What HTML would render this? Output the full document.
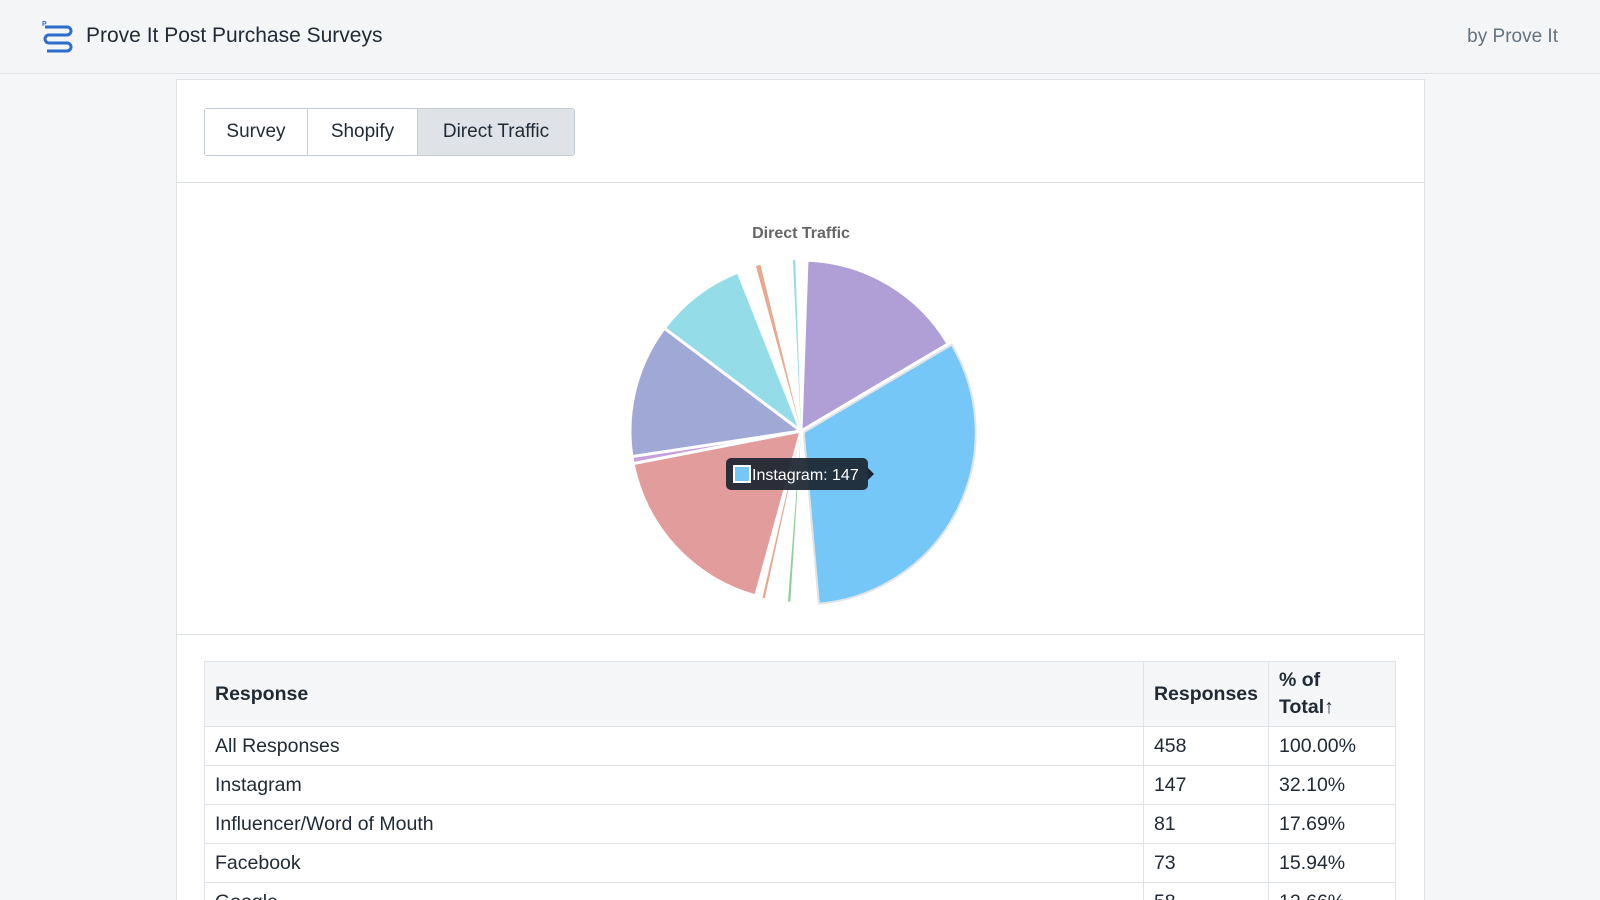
<!DOCTYPE html>
<html style="height:900px;overflow:hidden"><head><meta charset="utf-8"><style>
body{margin:0;width:1600px;height:900px;overflow:hidden;position:relative;background:#f4f6f8;font-family:"Liberation Sans",sans-serif;color:#212b36}
.top{position:absolute;left:0;top:0;width:1600px;height:73px;background:#f4f5f7;border-bottom:1px solid #dfe3e8}
.title{position:absolute;left:86px;top:24px;font-size:21px;color:#212b36}
.by{position:absolute;right:42px;top:26px;font-size:19px;color:#637381}
.card{position:absolute;left:176px;top:79px;width:1247px;height:821px;overflow:hidden;background:#fff;border:1px solid #dfe3e8;border-bottom:0}
.tabs{position:absolute;left:27px;top:28px;display:flex;border:1px solid #c4cdd5;border-radius:3px;overflow:hidden}
.tabs div{height:46px;line-height:46px;font-size:19px;text-align:center;border-right:1px solid #c4cdd5;background:#fff}
.tabs div:last-child{border-right:0;background:#dfe3e8}
.sep{position:absolute;left:0;width:1247px;height:1px;background:#dfe3e8}
table{position:absolute;left:27px;top:581px;width:1192px;border-collapse:collapse;font-size:19.5px}
th{background:#f4f6f8;text-align:left;font-weight:bold;height:64px;padding:0 10px;border:1px solid #dfe3e8;line-height:27px}
td{height:38px;padding:0 10px;border:1px solid #dfe3e8}
</style></head><body>
<div class="top">
<svg style="position:absolute;left:41px;top:19px" width="35" height="35"><path d="M4 8h22a4 4 0 0 1 0 8H8a4 4 0 0 0 0 8h18a4 4 0 0 1 0 8H6" fill="none" stroke="#2c6ecb" stroke-width="3"/><text x="1" y="7" font-size="7" fill="#2c6ecb" font-family="Liberation Sans" font-weight="bold">P</text></svg>
<div class="title">Prove It Post Purchase Surveys</div>
<div class="by">by Prove It</div>
</div>
<div class="card">
<div class="tabs">
<div style="width:102px">Survey</div>
<div style="width:109px">Shopify</div>
<div style="width:156px">Direct Traffic</div>
</div>
<div class="sep" style="top:102px"></div>
<div class="sep" style="top:554px"></div>
<svg id="pie" style="position:absolute;left:0;top:103px" width="1247" height="450"></svg>
<table>
<tr><th>Response</th><th style="width:103px">Responses</th><th style="width:106px">% of<br>Total↑</th></tr>
<tr><td>All Responses</td><td>458</td><td>100.00%</td></tr>
<tr><td>Instagram</td><td>147</td><td>32.10%</td></tr>
<tr><td>Influencer/Word of Mouth</td><td>81</td><td>17.69%</td></tr>
<tr><td>Facebook</td><td>73</td><td>15.94%</td></tr>
<tr><td>Google</td><td>58</td><td>12.66%</td></tr>
</table>
</div>
<script>
const labels=["Facebook","Instagram","g1","Other A","g2","Other B","g3","Influencer/Word of Mouth","Other C","Google","Other D","g4","Other E","Other F","g5","Other G","g6"];
const values=[73,147,11,1,10,1,3,81,3,58,40,8,1,1,14,1,5];
const colors=["#b09fd6","#74c7f7","#fff","#8fce9a","#fff","#e8a58c","#fff","#e39c9c","#c79ee0","#a0a8d6","#94dce8","#fff","#e8a58c","#e8a58c","#fff","#94dce8","#fff"];
const svg=document.getElementById('pie');
const NS='http://www.w3.org/2000/svg';
const cx=624,cy=248,r=171,start=2;
const total=values.reduce((a,b)=>a+b,0);
function pt(a,rr,ox,oy){const t=(a-90)*Math.PI/180;return [cx+ox+rr*Math.cos(t),cy+oy+rr*Math.sin(t)];}
const tt=document.createElementNS(NS,'text');
tt.setAttribute('x',cx);tt.setAttribute('y',55);tt.setAttribute('text-anchor','middle');
tt.setAttribute('font-size','16');tt.setAttribute('font-weight','bold');tt.setAttribute('fill','#666');
tt.textContent='Direct Traffic';


svg.appendChild(tt);
const big=[],small=[];
let a=start;
values.forEach((v,i)=>{
 const sw=v/total*360;const a2=a+sw;
 let ox=0,oy=0,rr=r;
 if(i===1){const m=(a+sw/2-90)*Math.PI/180;ox=3*Math.cos(m);oy=3*Math.sin(m);rr=r+1;}
 const p1=pt(a,rr,ox,oy),p2=pt(a2,rr,ox,oy);
 const p=document.createElementNS(NS,'path');
 p.setAttribute('d',`M${cx+ox},${cy+oy}L${p1[0]},${p1[1]}A${rr},${rr} 0 ${sw>180?1:0} 1 ${p2[0]},${p2[1]}Z`);
 p.setAttribute('fill',colors[i]);
 const tiny=colors[i]==='#fff'||v<=1;
 if(!tiny){p.setAttribute('stroke',i===1?'#e0e4e8':'#fff');p.setAttribute('stroke-width',i===1?'2':'3');}
 
 
 (tiny&&colors[i]!=='#fff'?small:big).push(p);
 a=a2;
});
big.forEach(p=>svg.appendChild(p));small.forEach(p=>svg.appendChild(p));
const g=document.createElementNS(NS,'g');


g.innerHTML='<rect x="549" y="275" width="142" height="32" rx="5" fill="#1b2430" opacity="0.92"/><path d="M691 285l6 6-6 6z" fill="#1b2430"/><rect x="557" y="283" width="16" height="16" fill="#74c7f7" stroke="#fff" stroke-width="2"/><text x="575" y="297" font-size="16" fill="#fff" font-family="Liberation Sans">Instagram: 147</text>';
svg.appendChild(g);
</script>
</body></html>
